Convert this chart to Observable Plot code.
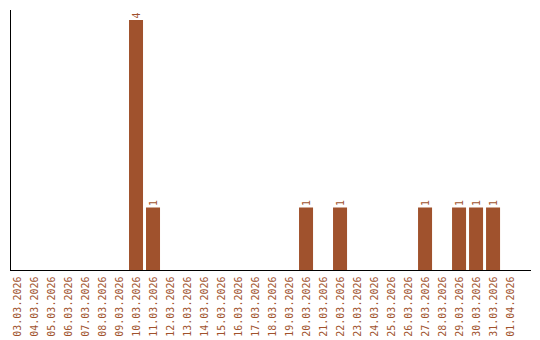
<!DOCTYPE html>
<html>
<head>
<meta charset="utf-8">
<script src="https://cdn.jsdelivr.net/npm/d3@7"></script>
<script src="https://cdn.jsdelivr.net/npm/@observablehq/plot@0.6"></script>
<style>
  body { margin: 0; background: #fff; }
</style>
</head>
<body>
<div id="chart"></div>
<script>
const dates = ["03.03.2026","04.03.2026","05.03.2026","06.03.2026","07.03.2026","08.03.2026","09.03.2026","10.03.2026","11.03.2026","12.03.2026","13.03.2026","14.03.2026","15.03.2026","16.03.2026","17.03.2026","18.03.2026","19.03.2026","20.03.2026","21.03.2026","22.03.2026","23.03.2026","24.03.2026","25.03.2026","26.03.2026","27.03.2026","28.03.2026","29.03.2026","30.03.2026","31.03.2026","01.04.2026"];
const counts = [0,0,0,0,0,0,0,4,1,0,0,0,0,0,0,0,0,1,0,1,0,0,0,0,1,0,1,1,1,0];

const data = dates.map((d, i) => ({date: d, count: counts[i]}));
const nonzero = data.filter(d => d.count > 0);
const color = "#a0522d";
const font = "DejaVu Sans Mono, monospace";

const chart = Plot.plot({
  width: 540,
  height: 340,
  marginTop: 10,
  marginLeft: 10,
  marginRight: 9,
  marginBottom: 70,
  style: {fontFamily: font, fontSize: "10px", color: color, background: "#fff"},
  x: {type: "band", domain: dates, paddingInner: 0.176, paddingOuter: 0.41, align: 0, round: false, label: null},
  y: {domain: [0, 4.16], axis: null},
  marks: [
    Plot.barY(nonzero, {x: "date", y: "count", fill: color}),
    Plot.text(nonzero, {x: "date", y: "count", text: d => String(d.count), rotate: -90, textAnchor: "start", dy: -2, fill: color, fontFamily: font, fontSize: 10}),
    Plot.axisX({tickSize: 0, tickRotate: -90, tickPadding: 6, fill: color, label: null}),
    Plot.frame({anchor: "left", stroke: "#000"}),
    Plot.ruleY([0], {stroke: "#000"})
  ]
});
document.getElementById("chart").appendChild(chart);
</script>
</body>
</html>
